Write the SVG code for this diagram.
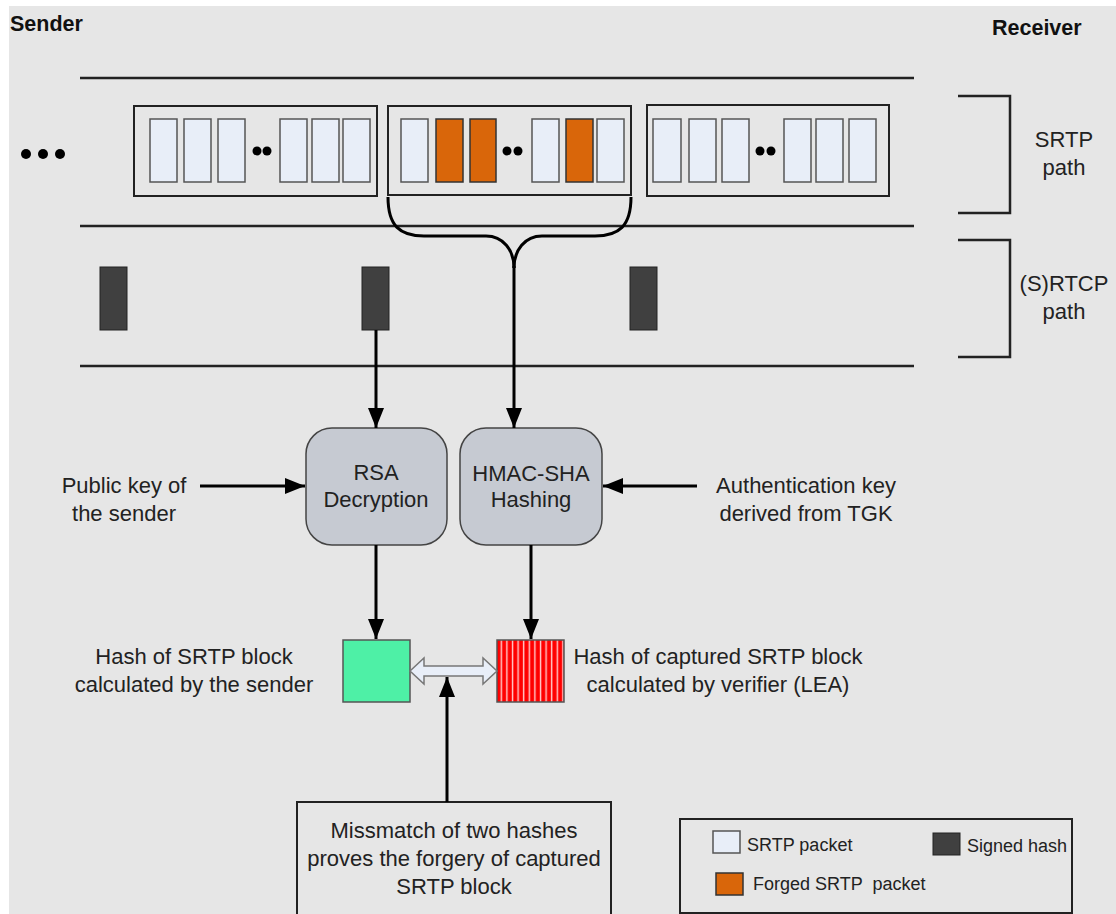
<svg xmlns="http://www.w3.org/2000/svg" width="1116" height="914" viewBox="0 0 1116 914">
<defs>
<style>
.t{font-family:"Liberation Sans",Arial,sans-serif;font-size:22px;fill:#222;text-anchor:middle}
.b{font-family:"Liberation Sans",Arial,sans-serif;font-size:21.5px;font-weight:bold;fill:#111}
.lg{font-family:"Liberation Sans",Arial,sans-serif;font-size:18px;fill:#222;white-space:pre}
.pk{fill:#e8eef8;stroke:#555;stroke-width:1.5}
.fg{fill:#d9660a;stroke:#333;stroke-width:1.5}
.sh{fill:#404040;stroke:#222;stroke-width:1}
.blk{fill:none;stroke:#222;stroke-width:2}
.ln{stroke:#222;stroke-width:2.5}
.ar{stroke:#000;stroke-width:3;fill:none}
.proc{fill:#c6cad2;stroke:#444;stroke-width:1.5}
</style>
<marker id="ah" markerUnits="userSpaceOnUse" markerWidth="20" markerHeight="16" refX="20" refY="8" orient="auto">
<path d="M0,0 L20,8 L0,16 z" fill="#000"/>
</marker>
<pattern id="stripes" patternUnits="userSpaceOnUse" width="5.6" height="10" x="497">
<rect width="5.6" height="10" fill="#ff0000"/>
<rect x="3.6" width="1.4" height="10" fill="#ffd0d0"/>
</pattern>
</defs>
<rect width="1116" height="914" fill="#ffffff"/>
<rect x="9" y="6" width="1107" height="908" fill="#e6e6e6"/>

<g id="headers">
<text class="b" x="10" y="31">Sender</text>
<text class="b" x="992" y="35">Receiver</text>
</g>

<g id="paths">
<line class="ln" x1="80" y1="78" x2="914" y2="78"/>
<line class="ln" x1="80" y1="226" x2="914" y2="226"/>
<line class="ln" x1="80" y1="366" x2="914" y2="366"/>
<path d="M958,96 H1010 V213 H958" fill="none" stroke="#222" stroke-width="2.5"/>
<path d="M958,240 H1010 V357 H958" fill="none" stroke="#222" stroke-width="2.5"/>
<text class="t" x="1064" y="147">SRTP</text>
<text class="t" x="1064" y="175">path</text>
<text class="t" x="1064" y="291">(S)RTCP</text>
<text class="t" x="1064" y="319">path</text>
</g>

<g id="ellipsis">
<circle cx="26" cy="154" r="5" fill="#000"/>
<circle cx="43" cy="154" r="5" fill="#000"/>
<circle cx="60" cy="154" r="5" fill="#000"/>
</g>

<g id="block1">
<rect class="blk" x="134" y="106" width="243" height="90"/>
<rect class="pk" x="150" y="119" width="27" height="63"/>
<rect class="pk" x="184" y="119" width="27" height="63"/>
<rect class="pk" x="218" y="119" width="27" height="63"/>
<circle cx="257" cy="151" r="4.5" fill="#000"/>
<circle cx="267" cy="151" r="4.5" fill="#000"/>
<rect class="pk" x="280" y="119" width="27" height="63"/>
<rect class="pk" x="312" y="119" width="27" height="63"/>
<rect class="pk" x="343" y="119" width="27" height="63"/>
</g>

<g id="block2">
<rect class="blk" x="388" y="106" width="243" height="89"/>
<rect class="pk" x="401" y="119" width="27" height="63"/>
<rect class="fg" x="436" y="119" width="27" height="63"/>
<rect class="fg" x="470" y="119" width="26" height="63"/>
<circle cx="507" cy="151" r="4.5" fill="#000"/>
<circle cx="518" cy="151" r="4.5" fill="#000"/>
<rect class="pk" x="532" y="119" width="27" height="63"/>
<rect class="fg" x="566" y="119" width="27" height="63"/>
<rect class="pk" x="597" y="119" width="27" height="63"/>
</g>

<g id="block3">
<rect class="blk" x="647" y="105" width="242" height="91"/>
<rect class="pk" x="653" y="119" width="28" height="63"/>
<rect class="pk" x="689" y="119" width="27" height="63"/>
<rect class="pk" x="722" y="119" width="27" height="63"/>
<circle cx="760" cy="151" r="4.5" fill="#000"/>
<circle cx="771" cy="151" r="4.5" fill="#000"/>
<rect class="pk" x="784" y="119" width="27" height="63"/>
<rect class="pk" x="816" y="119" width="27" height="63"/>
<rect class="pk" x="849" y="119" width="27" height="63"/>
</g>

<g id="signed-hashes">
<rect class="sh" x="100" y="267" width="27" height="63"/>
<rect class="sh" x="362" y="267" width="27" height="63"/>
<rect class="sh" x="630" y="267" width="27" height="63"/>
</g>

<g id="rsa">
<rect class="proc" x="306" y="428" width="141" height="117" rx="26"/>
<text class="t" x="376" y="480">RSA</text>
<text class="t" x="376" y="507">Decryption</text>
</g>
<g id="hmac">
<rect class="proc" x="460" y="428" width="142" height="117" rx="26"/>
<text class="t" x="531" y="481">HMAC-SHA</text>
<text class="t" x="531" y="507">Hashing</text>
</g>

<g id="labels">
<text class="t" x="124" y="493">Public key of</text>
<text class="t" x="124" y="521">the sender</text>
<text class="t" x="806" y="493">Authentication key</text>
<text class="t" x="806" y="521">derived from TGK</text>
<text class="t" x="194" y="664">Hash of SRTP block</text>
<text class="t" x="194" y="692">calculated by the sender</text>
<text class="t" x="718" y="664">Hash of captured SRTP block</text>
<text class="t" x="718" y="692">calculated by verifier (LEA)</text>
</g>

<g id="hash-sender">
<rect x="343" y="640" width="67" height="62" fill="#4ef0a6" stroke="#555" stroke-width="1.5"/>
</g>
<g id="hash-verifier">
<rect x="497" y="640" width="67" height="62" fill="url(#stripes)" stroke="#555" stroke-width="1.5"/>
</g>

<g id="conclusion">
<rect x="297" y="802" width="314" height="130" fill="#e6e6e6" stroke="#222" stroke-width="2"/>
<text class="t" x="454" y="838">Missmatch of two hashes</text>
<text class="t" x="454" y="866">proves the forgery of captured</text>
<text class="t" x="454" y="894">SRTP block</text>
</g>

<g id="legend">
<rect x="680" y="819" width="392" height="94" fill="#e6e6e6" stroke="#222" stroke-width="2"/>
<rect class="pk" x="713" y="831" width="27" height="22"/>
<text class="lg" x="747" y="851">SRTP packet</text>
<rect class="sh" x="933" y="833" width="27" height="22"/>
<text class="lg" x="967" y="852">Signed hash</text>
<rect class="fg" x="716" y="873" width="27" height="22"/>
<text class="lg" x="753" y="890" xml:space="preserve">Forged SRTP  packet</text>
</g>

<g id="connectors">
<path d="M388,197 C388,226 400,236 424,236 L486,236 C503,236 514,250 514,268" fill="none" stroke="#000" stroke-width="3"/>
<path d="M631,197 C631,226 619,236 595,236 L542,236 C525,236 514,250 514,268" fill="none" stroke="#000" stroke-width="3"/>
<line class="ar" x1="514" y1="266" x2="514" y2="428" marker-end="url(#ah)"/>
<line class="ar" x1="376" y1="330" x2="376" y2="428" marker-end="url(#ah)"/>
<line class="ar" x1="200" y1="486" x2="305" y2="486" marker-end="url(#ah)"/>
<line class="ar" x1="697" y1="486" x2="603" y2="486" marker-end="url(#ah)"/>
<line class="ar" x1="376" y1="545" x2="376" y2="639" marker-end="url(#ah)"/>
<line class="ar" x1="531" y1="545" x2="531" y2="639" marker-end="url(#ah)"/>
<line class="ar" x1="447" y1="802" x2="447" y2="677" marker-end="url(#ah)"/>
<path d="M410,671 L424,658 L424,666 L483,666 L483,658 L497,671 L483,684 L483,676 L424,676 L424,684 Z" fill="#e8eef8" stroke="#777" stroke-width="1.5"/>
</g>
</svg>
